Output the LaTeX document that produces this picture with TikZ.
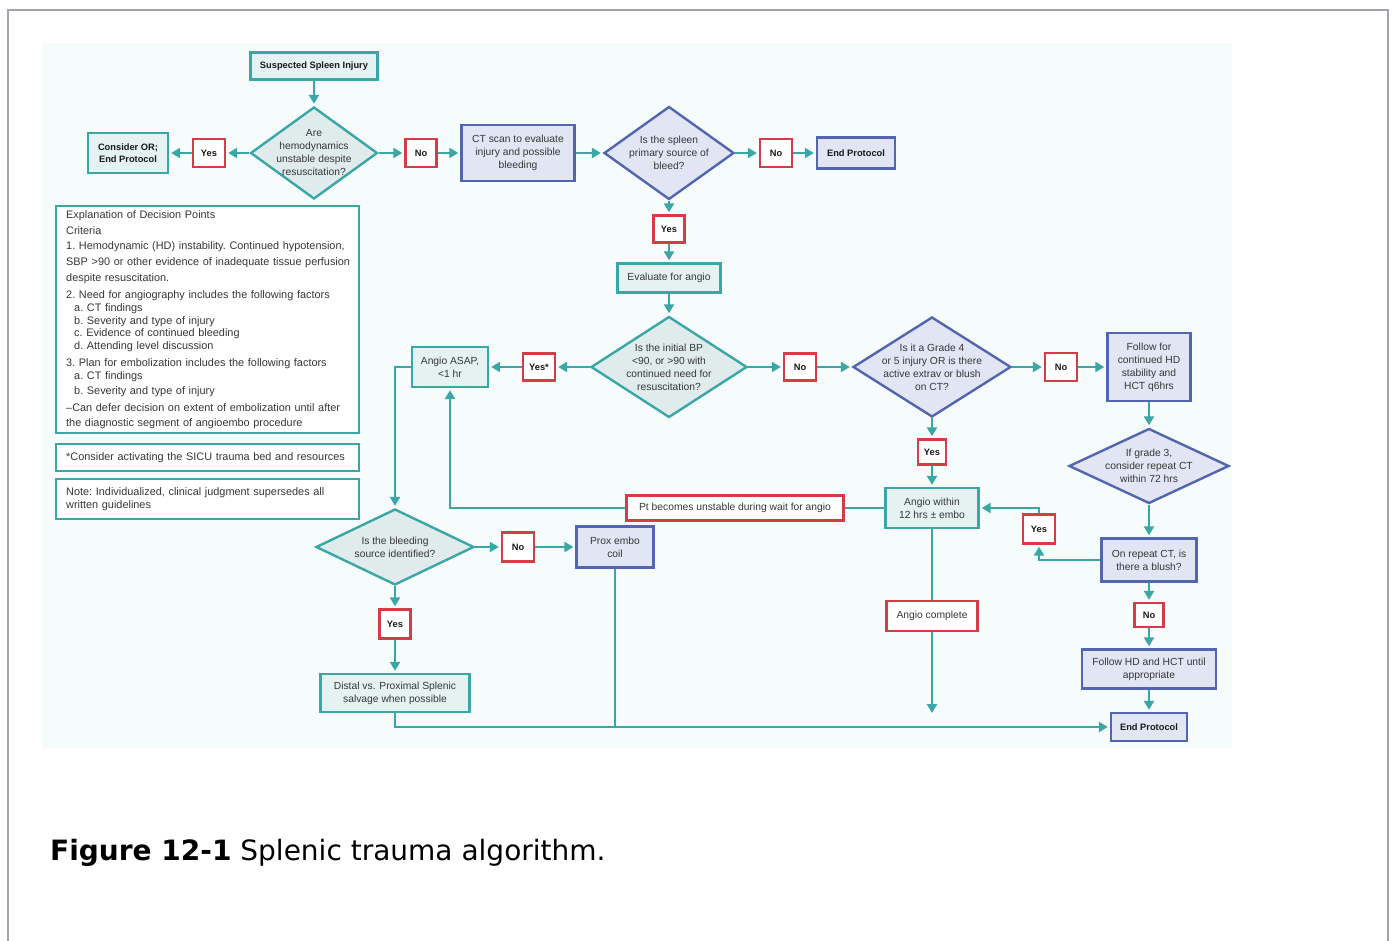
\documentclass[tikz,border=0pt]{standalone}
\usepackage{fontspec}
\setmainfont{Liberation Sans}
\newfontfamily\capfont{DejaVu Sans}
\usetikzlibrary{shapes.geometric,arrows.meta}

\definecolor{tealline}{RGB}{58,166,166}
\definecolor{tealfill}{RGB}{228,242,242}
\definecolor{tealdfill}{RGB}{224,235,236}
\definecolor{blueline}{RGB}{82,102,176}
\definecolor{bluefill}{RGB}{226,229,243}
\definecolor{redline}{RGB}{212,60,70}
\definecolor{chartbg}{RGB}{246,251,251}
\definecolor{framegray}{RGB}{165,162,172}
\definecolor{txt}{RGB}{55,55,55}
\definecolor{txtb}{RGB}{25,25,25}

\tikzset{
  sz/.style 2 args={minimum width=#1pt, minimum height=#2pt},
  base/.style={draw, line width=2.4pt, align=center, inner sep=2pt,
    font=\fontsize{10.3}{13}\selectfont, text=txt},
  bold/.style={font=\bfseries\fontsize{9.3}{12}\selectfont, text=txtb},
  tealbox/.style={base, draw=tealline, fill=tealfill},
  bluebox/.style={base, draw=blueline, fill=bluefill},
  redbox/.style={base, draw=redline, fill=white},
  dia/.style={diamond, aspect=1, inner sep=-18pt, line width=2.4pt,
    align=center, font=\fontsize{10.3}{13}\selectfont, text=txt},
  tealdia/.style={dia, draw=tealline, fill=tealdfill},
  bluedia/.style={dia, draw=blueline, fill=bluefill},
  expl/.style={draw=tealline, fill=white, line width=2.4pt, align=left,
    anchor=north west, text width=289pt, inner xsep=7pt, inner ysep=4.5pt,
    font=\fontsize{10.9}{12.5}\selectfont\frenchspacing, text=txt},
  conn/.style={draw=tealline, line width=2.4pt},
  arr/.style={conn, -{Triangle[length=9pt,width=10pt]}, shorten >=2pt},
}

\begin{document}
\begin{tikzpicture}[x=1pt,y=-1pt]
\useasboundingbox (0,0) rectangle (1394,941);

% page frame and chart panel
\draw[framegray, line width=2pt] (8,950) -- (8,10) -- (1388,10) -- (1388,950);
\fill[chartbg] (42,43) rectangle (1232,748);

% first decision
\node[tealbox, bold, sz={127}{27}] (start) at (314,66) {Suspected Spleen Injury};
\node[tealdia, sz={127}{92}] (d1) at (314,153) {Are\\hemodynamics\\unstable despite\\resuscitation?};
\node[redbox, bold, sz={32}{28}] (yes1) at (209,153) {Yes};
\node[tealbox, bold, sz={80}{40}] (consider) at (128,153) {Consider OR;\\End Protocol};
\node[redbox, bold, sz={31}{28}] (no1) at (421,153) {No};
\node[bluebox, sz={113}{56}] (ct) at (518,153) {CT scan to evaluate\\injury and possible\\bleeding};
\node[bluedia, sz={130}{93}] (d2) at (669,153) {Is the spleen\\primary source of\\bleed?};
\node[redbox, bold, sz={32}{28}] (no2) at (776,153) {No};
\node[bluebox, bold, sz={78}{31}] (end1) at (856,153) {End Protocol};
\node[redbox, bold, sz={31}{27}] (yes2) at (669,229) {Yes};
\node[tealbox, sz={103}{29}] (evalang) at (669,278) {Evaluate for angio};

% blood pressure decision
\node[tealdia, sz={156}{101}] (d3) at (669,367) {Is the initial BP\\<90, or >90 with\\continued need for\\resuscitation?};
\node[redbox, bold, sz={32}{27}] (yesstar) at (539,367) {Yes*};
\node[tealbox, sz={76}{40}] (asap) at (450,367) {Angio ASAP,\\<1 hr};
\node[redbox, bold, sz={32}{27}] (no3) at (800,367) {No};
\node[bluedia, sz={158}{100}] (d4) at (932,367) {Is it a Grade 4\\or 5 injury OR is there\\active extrav or blush\\on CT?};
\node[redbox, bold, sz={32}{28}] (no4) at (1061,367) {No};
\node[bluebox, sz={83}{68}] (follow) at (1149,367) {Follow for\\continued HD\\stability and\\HCT q6hrs};

% observation branch
\node[bluedia, sz={160}{75}] (d5) at (1149,466) {If grade 3,\\consider repeat CT\\within 72 hrs};
\node[bluebox, sz={95}{43}] (repeat) at (1149,560) {On repeat CT, is\\there a blush?};
\node[redbox, bold, sz={32}{29}] (yes5) at (1039,529) {Yes};
\node[redbox, bold, sz={29}{24}] (no5) at (1149,615) {No};
\node[bluebox, sz={134}{39}] (followhd) at (1149,669) {Follow HD and HCT until\\appropriate};
\node[bluebox, bold, sz={76}{28}] (end2) at (1149,727) {End Protocol};

% angiography branch
\node[redbox, bold, sz={28}{25}] (yes4) at (932,452) {Yes};
\node[tealbox, sz={93}{40}] (within) at (932,508) {Angio within\\12 hrs ± embo};
\node[redbox, sz={217}{25}] (unstable) at (735,508) {Pt becomes unstable during wait for angio};
\node[redbox, sz={91}{30}] (complete) at (932,616) {Angio complete};
\coordinate (cend) at (932,715);

% embolization decision
\node[tealdia, sz={158}{76}] (d6) at (395,547) {Is the bleeding\\source identified?};
\node[redbox, bold, sz={32}{29}] (no6) at (518,547) {No};
\node[bluebox, sz={77}{41}] (prox) at (615,547) {Prox embo\\coil};
\node[redbox, bold, sz={31}{29}] (yes6) at (395,624) {Yes};
\node[tealbox, sz={149}{38}] (distal) at (395,693) {Distal vs. Proximal Splenic\\salvage when possible};

% notes
\node[expl] (explain) at (55,205) {\hspace*{3pt}Explanation of Decision Points\\[3.5pt]
\hspace*{3pt}Criteria\\[2.5pt]
\hspace*{3pt}\mbox{1. Hemodynamic (HD) instability. Continued hypotension,}\\[3.5pt]
\hspace*{3pt}\mbox{SBP >90 or other evidence of inadequate tissue perfusion}\\[3.5pt]
\hspace*{3pt}despite resuscitation.\\[4.5pt]
\hspace*{3pt}\mbox{2. Need for angiography includes the following factors}\\[0.5pt]
\hspace*{11pt}a. CT findings\\
\hspace*{11pt}b. Severity and type of injury\\
\hspace*{11pt}c. Evidence of continued bleeding\\
\hspace*{11pt}d. Attending level discussion\\[4.5pt]
\hspace*{3pt}\mbox{3. Plan for embolization includes the following factors}\\[0.5pt]
\hspace*{11pt}a. CT findings\\[2.5pt]
\hspace*{11pt}b. Severity and type of injury\\[4.5pt]
\hspace*{3pt}\mbox{–Can defer decision on extent of embolization until after}\\[2.5pt]
\hspace*{3pt}the diagnostic segment of angioembo procedure};
\node[expl, minimum height=27pt, minimum width=303pt] (sicu) at (55,443)
  {\hspace*{3pt}\mbox{*Consider activating the SICU trauma bed and resources}};
\node[expl, minimum height=40pt, minimum width=303pt] (note) at (55,478)
  {\hspace*{3pt}\mbox{Note: Individualized, clinical judgment supersedes all}\\\hspace*{3pt}written guidelines};

% connectors
\draw[arr] (start) -- (d1);
\draw[arr] (d1.west) -- (yes1.east);
\draw[arr] (yes1.west) -- (consider.east);
\draw[arr] (d1.east) -- (no1.west);
\draw[arr] (no1.east) -- (ct.west);
\draw[arr] (ct.east) -- (d2.west);
\draw[arr] (d2.east) -- (no2.west);
\draw[arr] (no2.east) -- (end1.west);
\draw[arr] (d2.south) -- (yes2.north);
\draw[arr] (yes2.south) -- (evalang.north);
\draw[arr] (evalang.south) -- (d3.north);
\draw[arr] (d3.west) -- (yesstar.east);
\draw[arr] (yesstar.west) -- (asap.east);
\draw[arr] (d3.east) -- (no3.west);
\draw[arr] (no3.east) -- (d4.west);
\draw[arr] (d4.east) -- (no4.west);
\draw[arr] (no4.east) -- (follow.west);
\draw[arr] (follow.south) -- (d5.north);
\draw[arr] (d5.south) -- (repeat.north);
\draw[arr] (repeat.south) -- (no5.north);
\draw[arr] (no5.south) -- (followhd.north);
\draw[arr] (followhd.south) -- (end2.north);
\draw[arr] (repeat.west) -| (yes5.south);
\draw[arr] (yes5.north) |- (within.east);
\draw[arr] (d4.south) -- (yes4.north);
\draw[arr] (yes4.south) -- (within.north);
\draw[conn] (within.west) -- (unstable.east);
\draw[arr] (unstable.west) -| (asap.south);
\draw[conn] (within.south) -- (complete.north);
\draw[arr] (complete.south) -- (cend);
\draw[arr] (asap.west) -| (d6.north);
\draw[arr] (d6.east) -- (no6.west);
\draw[arr] (no6.east) -- (prox.west);
\draw[arr] (d6.south) -- (yes6.north);
\draw[arr] (yes6.south) -- (distal.north);
\draw[arr] (distal.south) |- (end2.west);
\draw[conn] (prox.south) -- (prox.south |- end2.west);

% caption
\node[anchor=base west, inner sep=0pt, text=black,
  font=\capfont\fontsize{28}{32}\selectfont] (caption) at (50,860)
  {\textbf{Figure 12-1} Splenic trauma algorithm.};
\end{tikzpicture}
\end{document}
